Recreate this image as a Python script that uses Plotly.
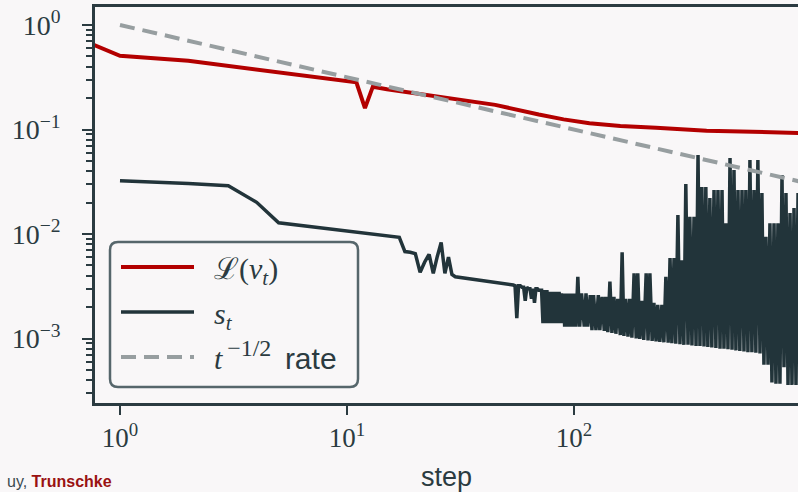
import plotly.graph_objects as go

# ---------------- data ----------------
loss_steps = [0.5, 1, 2, 3, 5, 7, 10, 11, 12, 13, 15, 20, 30, 45, 70, 90, 117, 160, 230, 384, 1000]
loss_values = [0.95, 0.508, 0.455, 0.405, 0.352, 0.321, 0.290, 0.283, 0.160, 0.257, 0.243, 0.223,
               0.195, 0.172, 0.139, 0.125, 0.115, 0.108, 0.104, 0.0974, 0.0926]

rate_steps = [1, 1000]
rate_values = [1.0, 0.0316]

s_steps = [
    1, 2, 3, 4, 5, 17, 18, 19, 20, 21, 22, 23, 24, 25, 26, 27, 28, 29, 30, 54,
    55, 56, 57, 58, 59, 60, 61, 62, 63, 64, 65, 66, 67, 68, 69, 70, 71, 72, 73, 74,
    75, 76, 77, 78, 79, 80, 81, 82, 83, 84, 85, 86, 87, 88, 89, 90, 91, 92, 93, 94,
    95, 96, 97, 98, 99,
    100, 102, 104, 106, 108, 111, 113, 115, 118, 120, 122, 125, 128, 130, 133, 136,
    138, 141, 144, 147, 150, 153, 156, 160, 163, 166, 169, 173, 176, 180, 184, 188,
    191, 195, 199, 203, 208, 212, 216, 221, 225, 230, 234, 239, 244, 249, 254, 260,
    265, 270, 276, 281, 287, 293, 299, 305, 311, 318, 324, 331, 338, 345, 352, 359,
    366, 374, 381, 389, 397, 405, 414, 422, 431, 440, 449, 458, 467, 477, 487, 497,
    507, 517, 528, 538, 550, 561, 572, 584, 596, 608, 621, 633, 646, 660, 673, 687,
    701, 716, 730, 745, 761, 776, 792, 808, 825, 842, 859, 877, 895, 913, 932, 951,
    971,
]
s_values = [
    0.0324, 0.0304, 0.0290, 0.0201, 0.0128, 0.0093, 0.0068, 0.0067, 0.0065, 0.0043,
    0.0054, 0.0064, 0.0042, 0.0061, 0.0083, 0.0042, 0.0060, 0.0041, 0.0039, 0.00325,
    0.0032, 0.00157, 0.0032, 0.0032, 0.0031, 0.0031, 0.0023, 0.0031, 0.0030, 0.0030,
    0.0024, 0.0030, 0.0022, 0.0030, 0.0030, 0.0029, 0.0029, 0.0029, 0.0014, 0.0029,
    0.0014, 0.0029, 0.0014, 0.0028, 0.0014, 0.0028, 0.0014, 0.0028, 0.0014, 0.0028,
    0.0014, 0.0028, 0.0014, 0.0027, 0.0014, 0.0027, 0.0013, 0.0027, 0.0013, 0.0027,
    0.0013, 0.0027, 0.0013, 0.0027, 0.0013,
    0.0027, 0.0013, 0.0039, 0.0013, 0.0027, 0.0013, 0.0027, 0.0013, 0.0026, 0.0012,
    0.0026, 0.0012, 0.0026, 0.0012, 0.0025, 0.00118, 0.0025, 0.00115, 0.0035, 0.00113,
    0.0025, 0.00111, 0.0024, 0.00108, 0.0067, 0.00106, 0.0024, 0.00104, 0.0024, 0.00102,
    0.0042, 0.00100, 0.0042, 0.00099, 0.0023, 0.00097, 0.0042, 0.00096, 0.0042, 0.00095,
    0.0022, 0.00094, 0.0021, 0.00093, 0.0021, 0.00092, 0.0039, 0.00091, 0.0059, 0.00090,
    0.0059, 0.00089, 0.0152, 0.00088, 0.0056, 0.00087, 0.0301, 0.00087, 0.0146, 0.00086,
    0.0146, 0.00085, 0.0570, 0.00085, 0.0282, 0.00084, 0.0282, 0.00083, 0.0221, 0.00082,
    0.0264, 0.00081, 0.0264, 0.00080, 0.0264, 0.00080, 0.0127, 0.00079, 0.0533, 0.00078,
    0.0410, 0.00077, 0.0264, 0.00076, 0.0264, 0.00075, 0.0264, 0.00074, 0.0510, 0.00074,
    0.0264, 0.00073, 0.0510, 0.00072, 0.0247, 0.00056, 0.0094, 0.00056, 0.0127, 0.00038,
    0.0127, 0.00037, 0.0127, 0.00037, 0.0367, 0.00053, 0.0247, 0.00036, 0.0159, 0.00036,
    0.0177, 0.00036, 0.0247,
]

x_tick_vals = [1, 10, 100]
x_tick_text = ["10<sup>0</sup>", "10<sup>1</sup>", "10<sup>2</sup>"]
y_tick_vals = [1e-3, 1e-2, 1e-1, 1]
y_tick_text = ["10<sup>−3</sup>", "10<sup>−2</sup>", "10<sup>−1</sup>", "10<sup>0</sup>"]
y_minor_vals = [m * 10.0 ** e for e in (-4, -3, -2, -1, 0) for m in range(2, 10)]

# ---------------- style ----------------
BG = "#f9f7f8"
INK = "#2b3b41"
RED = "#b30000"
DARK = "#22343a"
GRAY = "#979ea0"
SERIF = "Liberation Serif, DejaVu Serif, serif"
SANS = "Liberation Sans, Arial, sans-serif"

W, H = 798, 492
ML, MR, MT, MB = 95, 0, 7, 89
PW, PH = W - ML - MR, H - MT - MB

SP = "\u2002"  # gap between legend key and label

fig = go.Figure()
fig.add_trace(go.Scatter(
    x=loss_steps, y=loss_values, mode="lines", name=SP + "ℒ(<i>v</i><sub><i>t</i></sub>)",
    line=dict(color=RED, width=4), legendgroup="a"))
fig.add_trace(go.Scatter(
    x=s_steps, y=s_values, mode="lines", name=SP + "<i>s</i><sub><i>t</i></sub>",
    line=dict(color=DARK, width=3.5, simplify=False), legendgroup="b"))
fig.add_trace(go.Scatter(
    x=rate_steps, y=rate_values, mode="lines",
    name=SP + "<i>t</i><sup><span style='font-size:24px'>\u2009−1/2</span></sup>\u2009 "
              "<span style='font-family:Liberation Sans'>rate</span>",
    line=dict(color=GRAY, width=4, dash="15px,8px"), legendgroup="c"))


def px2paper(px, py):
    return (px - ML) / PW, (H - MB - py) / PH


# rounded legend frame
x0, y1 = px2paper(110, 242)
x1, y0 = px2paper(358, 387)
rx, ry = 8 / PW, 8 / PH
path = (f"M {x0+rx},{y1} L {x1-rx},{y1} Q {x1},{y1} {x1},{y1-ry} L {x1},{y0+ry} "
        f"Q {x1},{y0} {x1-rx},{y0} L {x0+rx},{y0} Q {x0},{y0} {x0},{y0+ry} "
        f"L {x0},{y1-ry} Q {x0},{y1} {x0+rx},{y1} Z")
fig.add_shape(type="path", path=path, xref="paper", yref="paper",
              line=dict(color="#56666b", width=2.5), fillcolor="rgba(249,247,248,0.85)",
              layer="above")

lx, ly = px2paper(116, 241)
fig.update_layout(
    width=W, height=H,
    margin=dict(l=ML, r=MR, t=MT, b=MB, pad=0),
    paper_bgcolor=BG, plot_bgcolor=BG,
    showlegend=True,
    legend=dict(x=lx, y=ly, xanchor="left", yanchor="top", bgcolor="rgba(0,0,0,0)",
                borderwidth=0, font=dict(family=SERIF, size=30, color=INK),
                itemwidth=73, tracegroupgap=3, traceorder="grouped"),
    font=dict(family=SERIF, color=INK),
    xaxis=dict(type="log", range=[-0.1101, 2.987], showline=True, linecolor=INK, linewidth=2.5,
               mirror=True, ticks="outside", ticklen=9, tickwidth=2, tickcolor=INK,
               tickvals=x_tick_vals, ticktext=x_tick_text, showgrid=False, zeroline=False,
               tickfont=dict(family=SERIF, size=27, color=INK),
               title=dict(text="step", font=dict(family=SANS, size=27, color=INK), standoff=16)),
    yaxis=dict(type="log", range=[-3.617, 0.1722], showline=True, linecolor=INK, linewidth=2.5,
               mirror=False, ticks="outside", ticklen=10, tickwidth=2, tickcolor=INK,
               tickvals=y_tick_vals, ticktext=y_tick_text, showgrid=False, zeroline=False,
               tickfont=dict(family=SERIF, size=28, color=INK), ticklabelstandoff=16,
               minor=dict(tickvals=y_minor_vals, ticks="outside", ticklen=6, tickwidth=1.5,
                          tickcolor=INK, showgrid=False)),
)

fig.add_annotation(xref="paper", yref="paper", x=px2paper(114, 0)[0], y=px2paper(0, 481)[1],
                   xanchor="right", yanchor="middle", showarrow=False,
                   text="<span style='color:#3a4a50'>uy, </span><b><span style='color:#9a1212'>Trunschke</span></b>",
                   font=dict(family=SANS, size=16))

fig.write_html("out.html", config={"displayModeBar": False},
               post_script="document.body.style.margin='0px';")
